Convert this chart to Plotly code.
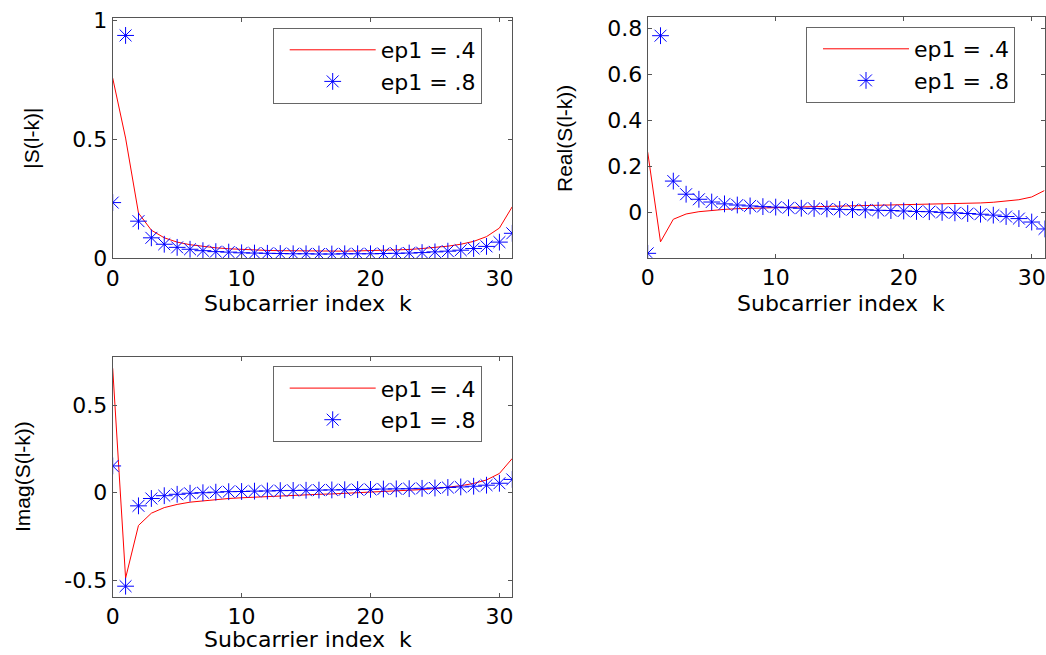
import plotly.graph_objects as go

W, H = 1046, 655

k = list(range(32))

abs_ep04 = [0.757, 0.505, 0.190, 0.118, 0.086, 0.068, 0.057, 0.049, 0.044, 0.040, 0.037, 0.035,
            0.033, 0.032, 0.031, 0.030, 0.030, 0.030, 0.030, 0.031, 0.032, 0.033, 0.035, 0.037,
            0.041, 0.045, 0.051, 0.059, 0.071, 0.091, 0.127, 0.217]
abs_ep08 = [0.234, 0.936, 0.156, 0.086, 0.059, 0.046, 0.038, 0.032, 0.028, 0.026, 0.023, 0.022,
            0.021, 0.020, 0.019, 0.019, 0.018, 0.018, 0.019, 0.019, 0.019, 0.020, 0.021, 0.022,
            0.024, 0.027, 0.030, 0.034, 0.041, 0.050, 0.068, 0.105]
real_ep04 = [0.262, -0.128, -0.030, -0.007, 0.003, 0.009, 0.013, 0.016, 0.018, 0.020, 0.022, 0.023,
             0.024, 0.025, 0.026, 0.027, 0.028, 0.029, 0.030, 0.031, 0.032, 0.033, 0.034, 0.035,
             0.037, 0.039, 0.041, 0.044, 0.048, 0.055, 0.067, 0.095]
real_ep08 = [-0.178, 0.768, 0.136, 0.079, 0.057, 0.045, 0.037, 0.032, 0.028, 0.025, 0.023, 0.020,
             0.018, 0.017, 0.015, 0.013, 0.012, 0.011, 0.009, 0.008, 0.006, 0.004, 0.003, 0.000,
             -0.002, -0.005, -0.008, -0.012, -0.018, -0.027, -0.042, -0.072]
imag_ep04 = [0.710, -0.489, -0.188, -0.118, -0.086, -0.068, -0.055, -0.047, -0.040, -0.034, -0.030, -0.026,
             -0.022, -0.019, -0.016, -0.013, -0.010, -0.008, -0.005, -0.002, 0.001, 0.005, 0.008, 0.012,
             0.017, 0.023, 0.030, 0.039, 0.052, 0.072, 0.109, 0.195]
imag_ep08 = [0.152, -0.535, -0.076, -0.034, -0.018, -0.010, -0.004, -0.001, 0.002, 0.005, 0.006, 0.008,
             0.009, 0.011, 0.012, 0.013, 0.014, 0.015, 0.016, 0.017, 0.018, 0.020, 0.021, 0.022,
             0.024, 0.026, 0.029, 0.032, 0.036, 0.042, 0.053, 0.075]

series_names = ["ep1 = .4", "ep1 = .8"]
y_titles = ["|S(l-k)|", "Real(S(l-k))", "Imag(S(l-k))"]
x_title = "Subcarrier index  k"

x_ticks = [0, 10, 20, 30]
y_ticks = [[0, 0.5, 1], [0, 0.2, 0.4, 0.6, 0.8], [-0.5, 0, 0.5]]
y_ticktext = [["0", "0.5", "1"], ["0", "0.2", "0.4", "0.6", "0.8"], ["-0.5", "0", "0.5"]]

TICK_FONT = dict(family="DejaVu Sans", size=22, color="black")
TITLE_FONT = dict(family="DejaVu Sans", size=22, color="black")
YTITLE_FONT = dict(family="Liberation Sans", size=21, color="black")
AXIS_COLOR = "#555555"

fig = go.Figure()

panels = [
    (abs_ep04, abs_ep08, "x", "y", "legend"),
    (real_ep04, real_ep08, "x2", "y2", "legend2"),
    (imag_ep04, imag_ep08, "x3", "y3", "legend3"),
]
for i, (a, b, xa, ya, lg) in enumerate(panels):
    fig.add_trace(go.Scatter(x=k, y=a, mode="lines", name=series_names[0],
                             line=dict(color="#ff0000", width=1), xaxis=xa, yaxis=ya,
                             legend=lg, legendgroup=f"g{i}a"))
    fig.add_trace(go.Scatter(x=k, y=b, mode="markers", name=series_names[1],
                             marker=dict(symbol="asterisk-open", size=14, color="#0000ff",
                                         line=dict(color="#0000ff", width=1)),
                             xaxis=xa, yaxis=ya, legend=lg, legendgroup=f"g{i}b"))

def px_x(p):
    return p / W

def px_y(p):
    return 1 - p / H

domains = [
    ([112.7, 512.3], [18.3, 258.3], [0, 1.008]),
    ([647.7, 1044.5], [17.3, 257.7], [-0.197, 0.848]),
    ([112.7, 512.3], [356.7, 596.7], [-0.595, 0.776]),
]

axis_common = dict(showline=True, linecolor=AXIS_COLOR, linewidth=1, mirror="ticks",
                   ticks="inside", ticklen=4, tickcolor=AXIS_COLOR, tickwidth=1,
                   showgrid=False, zeroline=False, tickfont=TICK_FONT, automargin=False)

for i, (dx, dy, yr) in enumerate(domains):
    sfx = "" if i == 0 else str(i + 1)
    fig.layout["xaxis" + sfx] = dict(domain=[px_x(dx[0]), px_x(dx[1])], range=[0, 31],
                                      anchor="y" + sfx, tickvals=x_ticks, **axis_common)
    fig.layout["yaxis" + sfx] = dict(domain=[px_y(dy[1]), px_y(dy[0])], range=yr,
                                      anchor="x" + sfx, tickvals=y_ticks[i],
                                      ticktext=y_ticktext[i], **axis_common)

legend_common = dict(bgcolor="white", bordercolor="#666666", borderwidth=1,
                     font=dict(family="DejaVu Sans", size=22, color="black"),
                     xanchor="left", yanchor="top", itemwidth=86, tracegroupgap=0,
                     traceorder="grouped", entrywidth=212, indentation=11)
fig.layout["legend"] = dict(x=px_x(272.7), y=px_y(28), **legend_common)
fig.layout["legend2"] = dict(x=px_x(806), y=px_y(27), **legend_common)
fig.layout["legend3"] = dict(x=px_x(272.7), y=px_y(366.3), **legend_common)

annotations = []
# x titles (bottom of the last one sits on the page edge)
for cx, cy, anc in [(308.3, 303.7, "middle"), (841.3, 303.7, "middle"), (308.3, 654, "bottom")]:
    annotations.append(dict(text=x_title, x=px_x(cx), y=px_y(cy), xref="paper", yref="paper",
                            xanchor="center", yanchor=anc, showarrow=False, font=TITLE_FONT))
# y titles
for t, (cx, cy) in zip(y_titles, [(30.7, 138), (564, 139), (22, 477)]):
    annotations.append(dict(text=t, x=px_x(cx), y=px_y(cy), xref="paper", yref="paper",
                            xanchor="center", yanchor="middle", textangle=-90, showarrow=False,
                            font=YTITLE_FONT))

fig.update_layout(width=W, height=H, margin=dict(l=0, r=0, t=0, b=0, pad=0, autoexpand=False),
                  paper_bgcolor="white", plot_bgcolor="white",
                  annotations=annotations, showlegend=True)

fig.write_html("out.html")
